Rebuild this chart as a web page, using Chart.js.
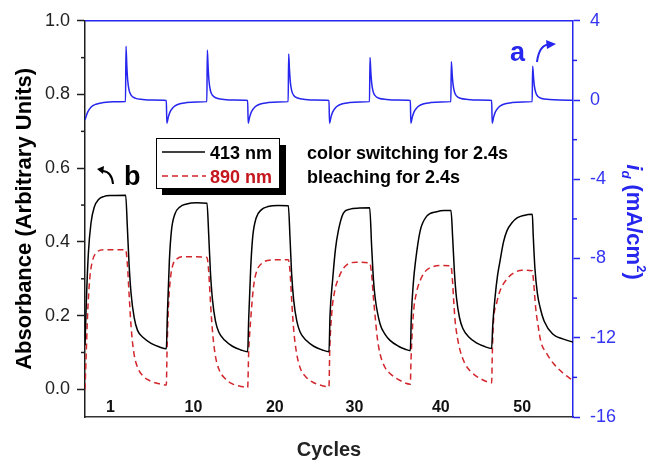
<!DOCTYPE html>
<html>
<head>
<meta charset="utf-8">
<script src="https://cdn.jsdelivr.net/npm/chart.js@4.4.1/dist/chart.umd.min.js"></script>
<style>
  body { margin: 0; background: #fff; }
  #wrap { width: 654px; height: 462px; }
</style>
</head>
<body>
<div id="wrap"><canvas id="chart" width="654" height="462"></canvas></div>
<script>
// time axis in seconds: each cycle = 2.4 s colouring + 2.4 s bleaching
// [t, absorbance]
const abs413 = [
  [0, 0.12], [0.08, 0.24], [0.2, 0.37], [0.35, 0.45], [0.55, 0.495], [0.8, 0.515], [1.1, 0.523], [1.6, 0.526], [2.4, 0.527],
  [2.5, 0.44], [2.6, 0.34], [2.72, 0.26], [2.9, 0.195], [3.1, 0.16], [3.45, 0.14], [3.9, 0.125], [4.4, 0.115], [4.8, 0.11],
  [4.86, 0.2], [4.98, 0.35], [5.1, 0.43], [5.3, 0.475], [5.6, 0.495], [6.0, 0.503], [6.6, 0.506], [7.2, 0.505],
  [7.3, 0.42], [7.4, 0.32], [7.52, 0.245], [7.7, 0.185], [7.9, 0.155], [8.25, 0.133], [8.7, 0.117], [9.2, 0.107], [9.6, 0.102],
  [9.66, 0.19], [9.78, 0.33], [9.9, 0.415], [10.1, 0.465], [10.4, 0.487], [10.8, 0.496], [11.4, 0.499], [12.0, 0.498],
  [12.1, 0.41], [12.2, 0.31], [12.32, 0.24], [12.5, 0.185], [12.7, 0.155], [13.05, 0.133], [13.5, 0.117], [14.0, 0.107], [14.4, 0.102],
  [14.46, 0.2], [14.62, 0.3], [14.78, 0.38], [14.95, 0.43], [15.25, 0.478], [15.64, 0.489], [16.2, 0.492], [16.8, 0.493],
  [16.92, 0.385], [17.02, 0.3], [17.12, 0.25], [17.41, 0.178], [17.7, 0.15], [18.0, 0.133], [18.5, 0.117], [18.9, 0.109], [19.2, 0.105],
  [19.26, 0.2], [19.38, 0.29], [19.5, 0.345], [19.78, 0.43], [20.17, 0.47], [20.76, 0.482], [21.2, 0.485], [21.6, 0.485],
  [21.7, 0.41], [21.8, 0.32], [21.92, 0.25], [22.1, 0.195], [22.3, 0.165], [22.65, 0.142], [23.1, 0.126], [23.6, 0.116], [24.0, 0.111],
  [24.06, 0.17], [24.2, 0.25], [24.35, 0.31], [24.5, 0.35], [24.7, 0.4], [24.9, 0.43], [25.2, 0.452], [25.5, 0.465], [25.9, 0.472], [26.4, 0.475],
  [26.45, 0.42], [26.55, 0.33], [26.7, 0.26], [26.86, 0.222], [27.1, 0.185], [27.6, 0.15], [28.2, 0.137], [28.8, 0.128]
];

const abs890 = [
  [0, 0.0], [0.06, 0.08], [0.15, 0.2], [0.28, 0.3], [0.45, 0.35], [0.7, 0.372], [1.1, 0.379], [2.4, 0.379],
  [2.5, 0.34], [2.6, 0.26], [2.72, 0.17], [2.88, 0.1], [3.1, 0.06], [3.45, 0.035], [3.9, 0.022], [4.4, 0.015], [4.8, 0.012],
  [4.84, 0.1], [4.92, 0.22], [5.04, 0.3], [5.2, 0.34], [5.45, 0.355], [5.9, 0.36], [7.2, 0.358],
  [7.3, 0.32], [7.4, 0.24], [7.52, 0.16], [7.68, 0.095], [7.9, 0.055], [8.25, 0.03], [8.7, 0.015], [9.2, 0.008], [9.6, 0.005],
  [9.66, 0.1], [9.78, 0.19], [9.95, 0.28], [10.13, 0.32], [10.5, 0.344], [11.0, 0.351], [12.0, 0.352],
  [12.1, 0.32], [12.2, 0.24], [12.32, 0.16], [12.48, 0.1], [12.7, 0.058], [13.05, 0.033], [13.5, 0.018], [14.0, 0.01], [14.4, 0.007],
  [14.44, 0.1], [14.56, 0.205], [14.75, 0.27], [14.95, 0.3], [15.2, 0.325], [15.45, 0.338], [16.0, 0.345], [16.8, 0.343],
  [16.92, 0.31], [17.02, 0.25], [17.12, 0.2], [17.25, 0.14], [17.41, 0.097], [17.7, 0.06], [18.0, 0.043], [18.6, 0.024], [19.2, 0.014],
  [19.24, 0.08], [19.38, 0.205], [19.55, 0.26], [19.78, 0.295], [20.05, 0.318], [20.37, 0.33], [21.0, 0.336], [21.6, 0.335],
  [21.68, 0.3], [21.76, 0.24], [21.84, 0.187], [21.98, 0.14], [22.14, 0.105], [22.4, 0.072], [22.73, 0.05], [23.3, 0.03], [24.0, 0.018],
  [24.04, 0.1], [24.1, 0.178], [24.3, 0.235], [24.5, 0.268], [24.99, 0.304], [25.4, 0.318], [25.8, 0.323], [26.4, 0.322],
  [26.46, 0.3], [26.6, 0.22], [26.75, 0.17], [26.9, 0.13], [27.25, 0.097], [27.65, 0.07], [28.24, 0.043], [28.8, 0.024]
];

// [t, current density mA/cm2]
const current = [
  [0, -1.0], [0.15, -0.62], [0.35, -0.36], [0.65, -0.21], [1.1, -0.13], [1.7, -0.09], [2.39, -0.08],
  [2.42, 2.72], [2.47, 1.7], [2.52, 1.0], [2.6, 0.5], [2.72, 0.25], [2.95, 0.1], [3.4, 0.03], [4.0, 0.0], [4.8, -0.02],
  [4.83, -1.17], [4.92, -0.85], [5.02, -0.6], [5.15, -0.43], [5.31, -0.3], [5.6, -0.19], [6.0, -0.13], [6.6, -0.1], [7.19, -0.08],
  [7.22, 2.52], [7.27, 1.6], [7.32, 0.95], [7.4, 0.48], [7.52, 0.24], [7.75, 0.1], [8.2, 0.03], [8.8, 0.0], [9.6, -0.02],
  [9.63, -1.17], [9.72, -0.85], [9.82, -0.6], [9.95, -0.43], [10.11, -0.3], [10.4, -0.19], [10.8, -0.13], [11.4, -0.1], [11.99, -0.08],
  [12.02, 2.32], [12.07, 1.5], [12.12, 0.9], [12.2, 0.46], [12.32, 0.23], [12.55, 0.1], [13.0, 0.03], [13.6, 0.0], [14.4, -0.02],
  [14.43, -1.17], [14.52, -0.85], [14.62, -0.6], [14.75, -0.43], [14.91, -0.3], [15.2, -0.19], [15.6, -0.13], [16.2, -0.1], [16.79, -0.08],
  [16.82, 2.15], [16.87, 1.4], [16.92, 0.85], [17.0, 0.44], [17.12, 0.22], [17.35, 0.09], [17.8, 0.03], [18.4, 0.0], [19.2, -0.02],
  [19.23, -1.17], [19.32, -0.85], [19.42, -0.6], [19.55, -0.43], [19.71, -0.3], [20.0, -0.19], [20.4, -0.13], [21.0, -0.1], [21.59, -0.08],
  [21.62, 1.93], [21.67, 1.3], [21.72, 0.8], [21.8, 0.42], [21.92, 0.21], [22.15, 0.09], [22.6, 0.03], [23.2, 0.0], [24.0, -0.02],
  [24.03, -1.17], [24.12, -0.85], [24.22, -0.6], [24.35, -0.43], [24.51, -0.3], [24.8, -0.19], [25.2, -0.13], [25.8, -0.1], [26.39, -0.08],
  [26.42, 1.71], [26.47, 1.15], [26.52, 0.72], [26.6, 0.38], [26.72, 0.19], [26.95, 0.08], [27.4, 0.03], [28.0, 0.0], [28.8, -0.01]
];

const leftTicks = [0, 0.2, 0.4, 0.6, 0.8, 1.0];
const leftMinor = [0.1, 0.3, 0.5, 0.7, 0.9];
const rightTicks = [4, 0, -4, -8, -12, -16];
const rightMinor = [2, -2, -6, -10, -14];
const cycleLabels = ['1', '10', '20', '30', '40', '50'];
const cycleLabelTimes = [1.5, 6.4, 11.2, 15.9, 21.0, 25.8];

const FONT = "'Liberation Sans', Arial, sans-serif";
const BLUE = '#2626ee';
const BLUE_TXT = '#3434f2';
const RED = '#d2262c';
const DARK = '#1e1e1e';

Chart.defaults.font.family = FONT;

const toXY = arr => arr.map(([x, y]) => ({ x: x, y: y }));

const decorations = {
  id: 'decorations',
  afterDraw(chart) {
    const { ctx, chartArea: a, scales } = chart;
    const { x, y, y2 } = scales;
    ctx.save();

    const seg = (x1, y1, x2, y2_, color, w) => {
      ctx.strokeStyle = color;
      ctx.lineWidth = w;
      ctx.beginPath();
      ctx.moveTo(x1, y1);
      ctx.lineTo(x2, y2_);
      ctx.stroke();
    };

    // top frame in blue
    seg(a.left, a.top, a.right, a.top, BLUE, 1.5);

    // minor ticks
    leftMinor.forEach(v => {
      const py = y.getPixelForValue(v);
      seg(a.left - 4, py, a.left, py, DARK, 1.5);
    });
    rightMinor.forEach(v => {
      const py = y2.getPixelForValue(v);
      seg(a.right, py, a.right + 4, py, BLUE, 1.5);
    });

    // cycle numbers inside the plot
    ctx.fillStyle = '#111';
    ctx.font = 'bold 16px ' + FONT;
    ctx.textAlign = 'center';
    ctx.textBaseline = 'middle';
    const labelY = y.getPixelForValue(-0.049);
    cycleLabels.forEach((t, i) => {
      ctx.fillText(t, x.getPixelForValue(cycleLabelTimes[i]), labelY);
    });

    // "a" with arrow towards right axis
    ctx.textAlign = 'left';
    ctx.textBaseline = 'alphabetic';
    ctx.fillStyle = BLUE;
    ctx.font = 'bold 27px ' + FONT;
    ctx.fillText('a', 510, 61);
    ctx.strokeStyle = BLUE;
    ctx.lineWidth = 2;
    ctx.beginPath();
    ctx.moveTo(537, 62);
    ctx.quadraticCurveTo(539, 46, 548, 44.5);
    ctx.stroke();
    ctx.beginPath();
    ctx.moveTo(556, 44);
    ctx.lineTo(546, 40);
    ctx.lineTo(547, 49);
    ctx.closePath();
    ctx.fill();

    // "b" with arrow towards left axis
    ctx.fillStyle = '#000';
    ctx.fillText('b', 124, 185);
    ctx.strokeStyle = '#000';
    ctx.beginPath();
    ctx.moveTo(113, 184);
    ctx.quadraticCurveTo(112, 172, 103, 171);
    ctx.stroke();
    ctx.beginPath();
    ctx.moveTo(97, 169);
    ctx.lineTo(104, 166);
    ctx.lineTo(103, 174);
    ctx.closePath();
    ctx.fill();

    // legend box with drop shadow
    ctx.fillStyle = '#000';
    ctx.fillRect(162, 145, 124, 50);
    ctx.fillStyle = '#fff';
    ctx.fillRect(156, 138, 123, 50);
    ctx.strokeStyle = '#000';
    ctx.lineWidth = 1;
    ctx.strokeRect(156.5, 138.5, 123, 50);
    seg(162, 152, 205, 152, '#000', 1.5);
    ctx.setLineDash([6, 4]);
    seg(162, 176, 206, 176, RED, 1.5);
    ctx.setLineDash([]);
    ctx.font = 'bold 18px ' + FONT;
    ctx.fillStyle = '#000';
    ctx.fillText('413 nm', 210, 158.5);
    ctx.fillStyle = '#c4161c';
    ctx.fillText('890 nm', 210, 182.5);

    ctx.fillStyle = '#000';
    ctx.fillText('color switching for 2.4s', 307, 159);
    ctx.fillText('bleaching for 2.4s', 307, 183);

    // right axis title: i_d (mA/cm^2), rotated clockwise
    const parts = [
      { t: 'i', f: 'italic bold 22px ', dy: 0 },
      { t: 'd', f: 'italic bold 13px ', dy: 5 },
      { t: ' (mA/cm', f: 'bold 22px ', dy: 0 },
      { t: '2', f: 'bold 13px ', dy: -10 },
      { t: ')', f: 'bold 22px ', dy: 0 }
    ];
    let total = 0;
    parts.forEach(p => { ctx.font = p.f + FONT; p.w = ctx.measureText(p.t).width; total += p.w; });
    ctx.translate(635, 222);
    ctx.rotate(Math.PI / 2);
    ctx.fillStyle = BLUE;
    let cx = -total / 2;
    parts.forEach(p => {
      ctx.font = p.f + FONT;
      ctx.fillText(p.t, cx, 8 + p.dy);
      cx += p.w;
    });

    ctx.restore();
  }
};

const ctx = document.getElementById('chart').getContext('2d');
new Chart(ctx, {
  type: 'line',
  data: {
    datasets: [
      {
        label: '413 nm',
        data: toXY(abs413),
        yAxisID: 'y',
        borderColor: '#000',
        borderWidth: 1.5,
        pointRadius: 0,
        cubicInterpolationMode: 'monotone'
      },
      {
        label: '890 nm',
        data: toXY(abs890),
        yAxisID: 'y',
        borderColor: RED,
        borderWidth: 1.5,
        borderDash: [6, 4],
        pointRadius: 0,
        cubicInterpolationMode: 'monotone'
      },
      {
        label: 'i_d',
        data: toXY(current),
        yAxisID: 'y2',
        borderColor: BLUE,
        borderWidth: 1.5,
        pointRadius: 0,
        cubicInterpolationMode: 'monotone'
      }
    ]
  },
  options: {
    responsive: false,
    animation: false,
    layout: { padding: { left: 8, right: 0, top: 20, bottom: 0 } },
    plugins: {
      legend: { display: false },
      tooltip: { enabled: false }
    },
    scales: {
      x: {
        type: 'linear',
        min: 0,
        max: 28.8,
        ticks: { display: false },
        grid: { display: true, drawOnChartArea: false, drawTicks: false },
        border: { color: '#333', width: 1.5 },
        title: {
          display: true,
          text: 'Cycles',
          color: '#222',
          font: { size: 20, weight: 'bold' },
          padding: { top: 0, bottom: 0 }
        },
        afterFit: s => { s.height = 45; }
      },
      y: {
        position: 'left',
        min: -0.075,
        max: 1.0,
        afterBuildTicks: s => { s.ticks = leftTicks.map(v => ({ value: v })); },
        ticks: {
          color: '#222',
          font: { size: 18 },
          padding: 7,
          callback: v => v.toFixed(1)
        },
        grid: { drawOnChartArea: false, tickLength: 8, tickColor: DARK, tickWidth: 1.5 },
        border: { color: DARK, width: 1.5 },
        title: {
          display: true,
          text: 'Absorbance (Arbitrary Units)',
          color: '#000',
          font: { size: 22, weight: 'bold' },
          padding: { top: 4, bottom: 0 }
        },
        afterFit: s => { s.width = 77; }
      },
      y2: {
        position: 'right',
        min: -16,
        max: 4,
        afterBuildTicks: s => { s.ticks = rightTicks.map(v => ({ value: v })); },
        ticks: {
          color: BLUE_TXT,
          font: { size: 18 },
          padding: 10
        },
        grid: { drawOnChartArea: false, tickLength: 7, tickColor: BLUE, tickWidth: 1.5 },
        border: { color: BLUE, width: 1.5 },
        afterFit: s => { s.width = 81; }
      }
    }
  },
  plugins: [decorations]
});
</script>
</body>
</html>
